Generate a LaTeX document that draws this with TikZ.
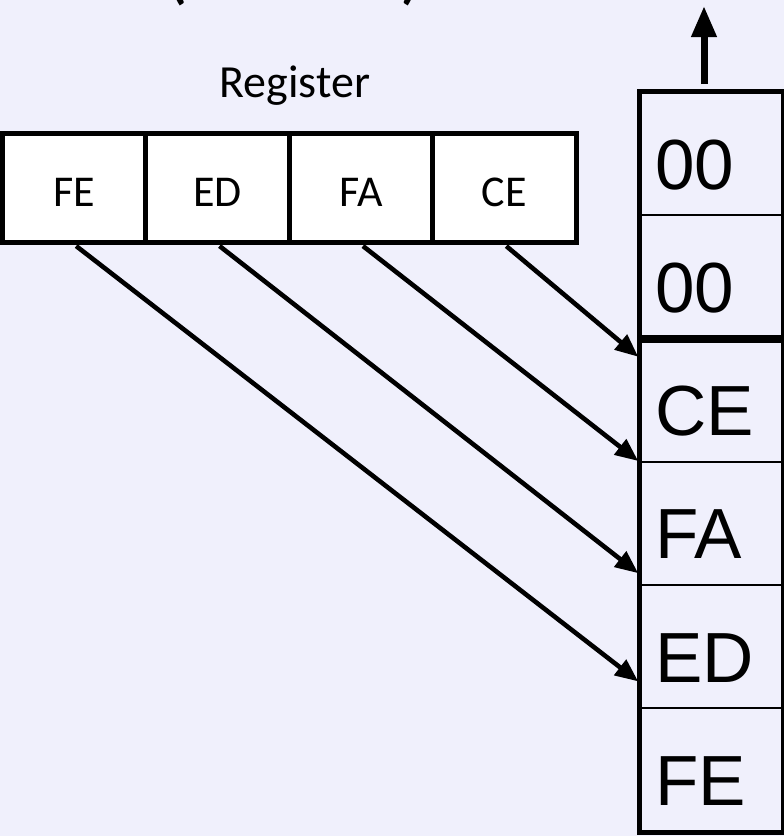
\documentclass[tikz,border=0pt]{standalone}
\usepackage{fontspec}
\setmainfont{Carlito}
\newfontfamily\arialfont{Liberation Sans}
\usetikzlibrary{arrows.meta}

\definecolor{canvas}{RGB}{240,240,252}

\tikzset{
  regcell/.style={draw=black, line width=5pt, fill=white, minimum width=143.4pt,
    minimum height=109pt, inner sep=0pt, text height=37pt, text depth=0pt,
    font=\fontsize{44}{52}\selectfont},
  memcell/.style={draw=black, line width=2pt, minimum width=142pt,
    minimum height=123.2pt, inner sep=0pt},
  memtext/.style={anchor=base west, inner sep=0pt,
    font=\arialfont\fontsize{71}{80}\selectfont},
  memframe/.style={draw=black, line width=5pt},
  ptr/.style={line width=4.6pt, shorten <=2.5pt, shorten >=1pt,
    -{Triangle[length=23pt,width=19pt]}},
  outptr/.style={line width=7pt, shorten <=7pt,
    -{Triangle[length=31pt,width=24pt]}},
  paren/.style={inner sep=0pt, anchor=south,
    font=\bfseries\fontsize{56}{64}\selectfont}
}

\begin{document}
\begin{tikzpicture}[x=1pt, y=-1pt]
  \useasboundingbox (0,0) rectangle (784,836);
  \fill[canvas] (0,0) rectangle (784,836);

  % heading, mostly beyond the upper edge
  \begin{scope}
    \clip (0,0) rectangle (784,836);
    \node[paren] (lpar) at (178,6.5) {(};
    \node[paren] (rpar) at (410,6.5) {)};
  \end{scope}

  % register bytes
  \node[regcell] (r1) at (74.2,187.5)  {FE};
  \node[regcell] (r2) at (217.6,187.5) {ED};
  \node[regcell] (r3) at (361.0,187.5) {FA};
  \node[regcell] (r4) at (504.4,187.5) {CE};
  \node[anchor=base, inner sep=0pt, font=\fontsize{46}{54}\selectfont]
    (reglabel) at ([xshift=3pt,yshift=33pt]r2.north east) {Register};

  % memory column
  \node[memcell] (m1) at (711,153.6) {};
  \node[memcell] (m2) at (711,276.8) {};
  \node[memcell] (m3) at (711,400.0) {};
  \node[memcell] (m4) at (711,523.2) {};
  \node[memcell] (m5) at (711,646.4) {};
  \node[memcell] (m6) at (711,769.6) {};
  \draw[memframe] (m1.north west) rectangle (m6.south east);
  \draw[line width=8pt] (m2.south west) -- (m2.south east);

  \foreach \c/\t in {m1/00, m2/00, m3/CE, m4/FA, m5/ED, m6/FE}
    \node[memtext] (\c text) at ([xshift=16pt,yshift=27pt]\c.south west) {\t};

  % byte moves
  \draw[ptr] (r4.south) -- ([yshift=-20pt]m3.north west);
  \draw[ptr] (r3.south) -- ([yshift=-1pt]m4.north west);
  \draw[ptr] (r2.south) -- ([yshift=10pt]m5.north west);
  \draw[ptr] (r1.south) -- ([yshift=25pt]m6.north west);

  % outgoing direction
  \coordinate (exit) at (704,6);
  \draw[outptr] (exit |- m1.north) -- (exit);
\end{tikzpicture}
\end{document}
